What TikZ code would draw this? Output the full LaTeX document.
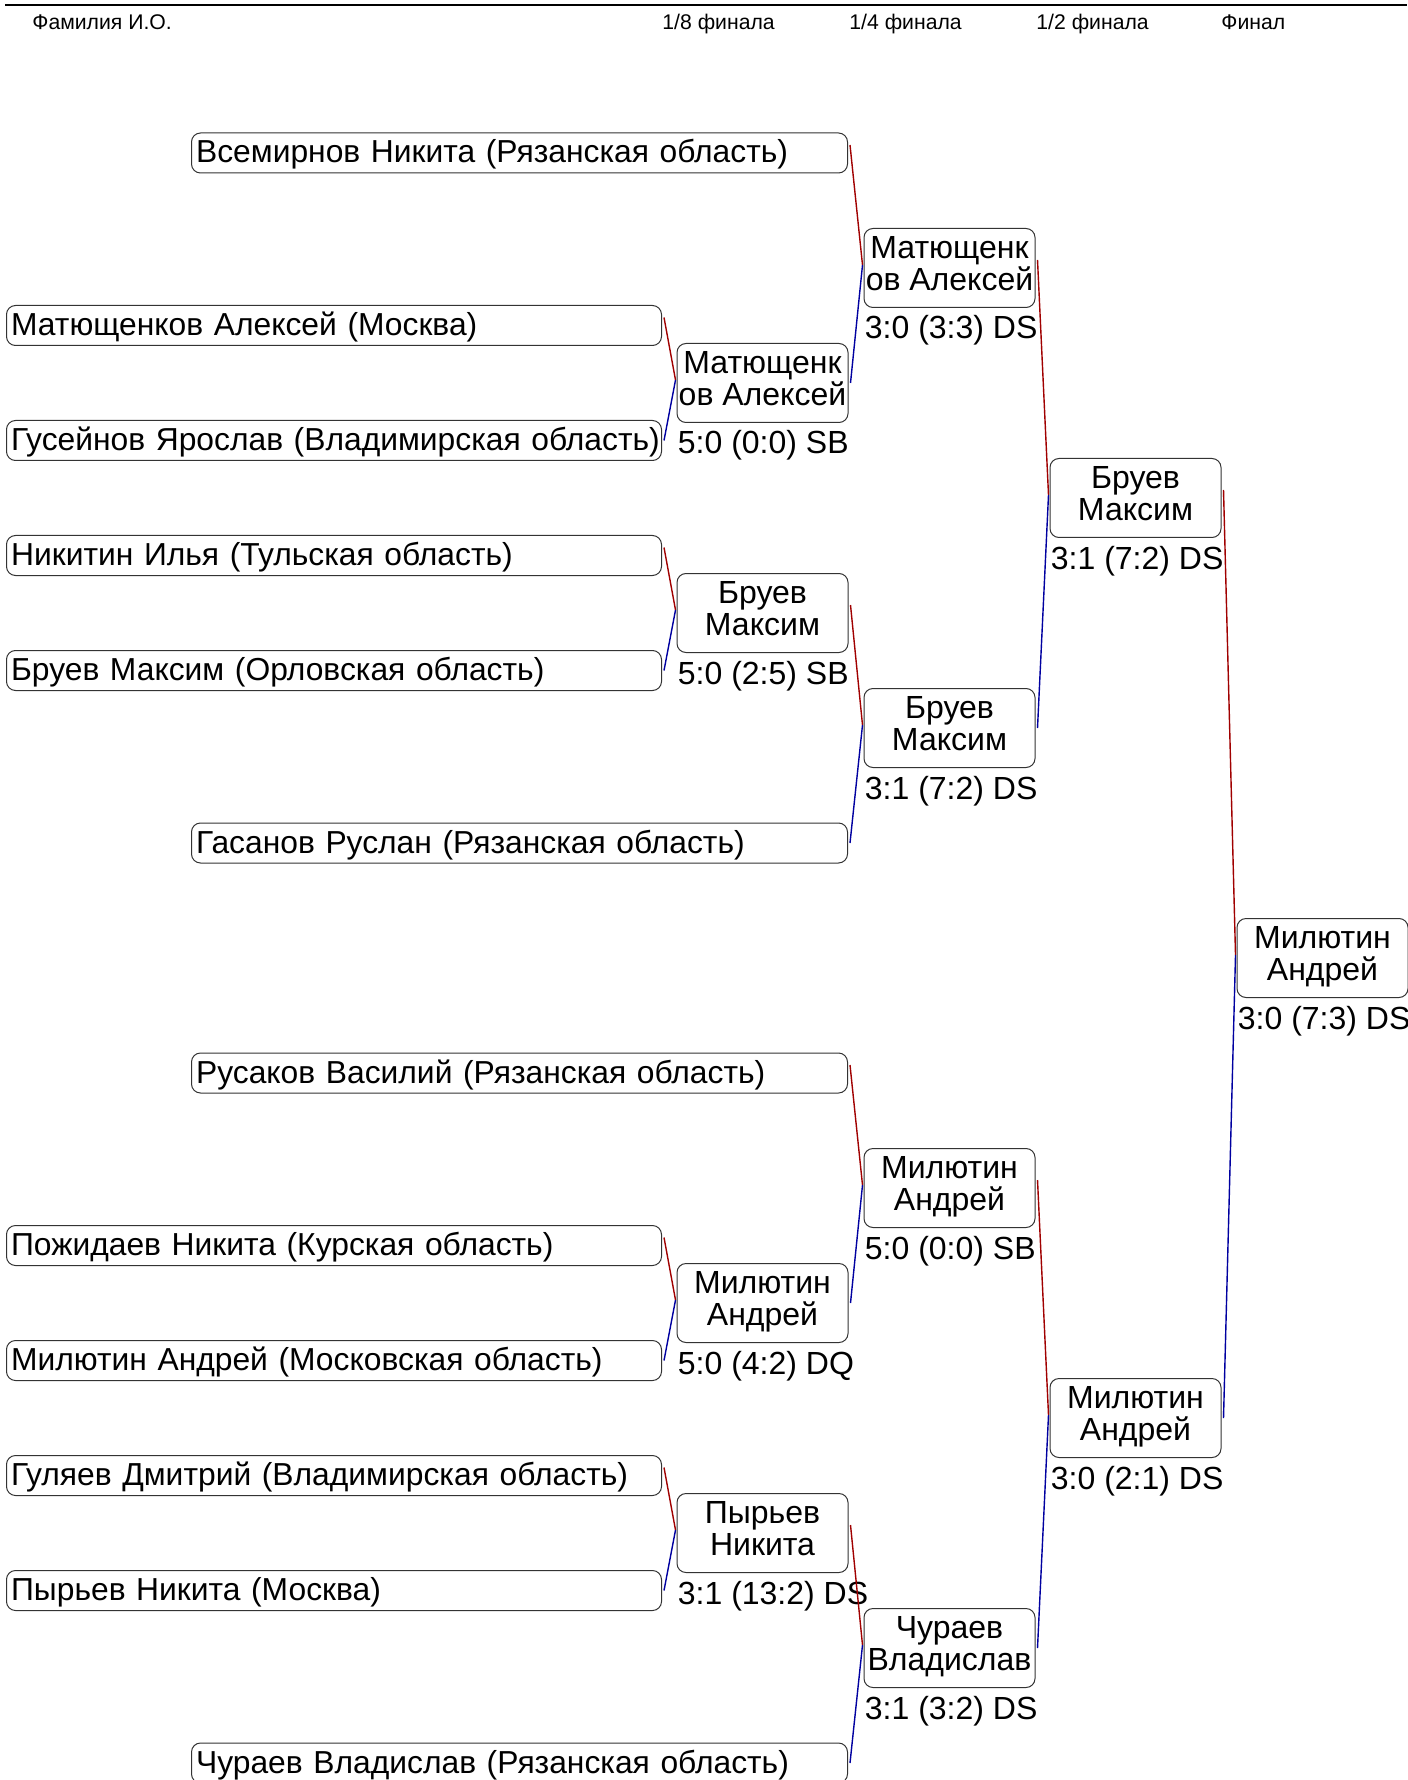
\documentclass[tikz,border=0pt]{standalone}
\usepackage{fontspec}
\setmainfont{Liberation Sans}
\usetikzlibrary{positioning}

\definecolor{winred}{RGB}{160,0,0}
\definecolor{losblue}{RGB}{0,0,160}

\tikzset{
  player/.style={draw=black!80, line width=0.5pt, rounded corners=4.5pt,
    anchor=west, inner xsep=2.3pt, inner ysep=0pt, minimum height=20pt,
    text height=15pt, text depth=5pt, align=left,
    font=\fontsize{15.9}{17}\selectfont},
  winner/.style={draw=black!80, line width=0.5pt, rounded corners=4.5pt,
    minimum width=85.5pt, minimum height=39.5pt, inner sep=0pt, align=center,
    font=\fontsize{16}{16}\selectfont},
  score/.style={anchor=base west, inner sep=0pt, font=\fontsize{16}{17}\selectfont},
  head/.style={anchor=base west, inner sep=0pt, font=\fontsize{10.6}{12}\selectfont},
  redline/.style={draw=winred, line width=0.7pt},
  blueline/.style={draw=losblue, line width=0.7pt}
}

\begin{document}
\begin{tikzpicture}[x=0.5pt,y=-0.5pt]
  \useasboundingbox (0,0) rectangle (1407,1780);

  % header
  \draw[line width=1pt] (5,5) -- (1407,5);
  \node[head] (hname) at (32,30) {Фамилия И.О.};
  \foreach \x/\txt [count=\i] in {662/{1/8 финала}, 849/{1/4 финала}, 1036/{1/2 финала}, 1221/{Финал}} {
    \node[head] (h\i) at (\x,30) {\txt};
  }

  % participants
  \foreach \k/\x/\w/\txt in {
      0/191/656/{Всемирнов Никита (Рязанская область)},
      3/6/655/{Матющенков Алексей (Москва)},
      5/6/655/{Гусейнов Ярослав (Владимирская область)},
      7/6/655/{Никитин Илья (Тульская область)},
      9/6/655/{Бруев Максим (Орловская область)},
      12/191/656/{Гасанов Руслан (Рязанская область)},
      16/191/656/{Русаков Василий (Рязанская область)},
      19/6/655/{Пожидаев Никита (Курская область)},
      21/6/655/{Милютин Андрей (Московская область)},
      23/6/655/{Гуляев Дмитрий (Владимирская область)},
      25/6/655/{Пырьев Никита (Москва)},
      28/191/656/{Чураев Владислав (Рязанская область)}} {
    \node[player, text width=\w*0.5pt-4.6pt] (p\k) at (\x,153+\k*57.5) {\mbox{\txt}};
  }

  % winners of each round
  \foreach \n/\k/\x/\txt/\res in {
      r1a/4/762.5/{Матющенк\\ов Алексей}/{5:0 (0:0) SB},
      r1b/8/762.5/{Бруев\\Максим}/{5:0 (2:5) SB},
      r1c/20/762.5/{Милютин\\Андрей}/{5:0 (4:2) DQ},
      r1d/24/762.5/{Пырьев\\Никита}/{3:1 (13:2) DS},
      r2a/2/949.5/{Матющенк\\ов Алексей}/{3:0 (3:3) DS},
      r2b/10/949.5/{Бруев\\Максим}/{3:1 (7:2) DS},
      r2c/18/949.5/{Милютин\\Андрей}/{5:0 (0:0) SB},
      r2d/26/949.5/{Чураев\\Владислав}/{3:1 (3:2) DS},
      r3a/6/1135.5/{Бруев\\Максим}/{3:1 (7:2) DS},
      r3b/22/1135.5/{Милютин\\Андрей}/{3:0 (2:1) DS},
      fin/14/1322.5/{Милютин\\Андрей}/{3:0 (7:3) DS}} {
    \node[winner] (\n) at (\x,153+\k*57.5) {\rule{0pt}{15pt}\txt\rule[-8.5pt]{0pt}{0pt}};
    \node[score] (\n s) at ([shift={(1,31)}]\n.south west) {\res};
  }

  % connectors: red from the upper slot, blue from the lower slot
  \foreach \u/\l/\w in {p3/p5/r1a, p7/p9/r1b, p19/p21/r1c, p23/p25/r1d,
      p0/r1a/r2a, r1b/p12/r2b, p16/r1c/r2c, r1d/p28/r2d,
      r2a/r2b/r3a, r2c/r2d/r3b, r3a/r3b/fin} {
    \draw[redline] ([shift={(2,-8)}]\u.east) -- ([shift={(-1,-3)}]\w.west);
    \draw[blueline] ([shift={(2,0)}]\l.east) -- ([shift={(-1,-3)}]\w.west);
  }
\end{tikzpicture}
\end{document}
